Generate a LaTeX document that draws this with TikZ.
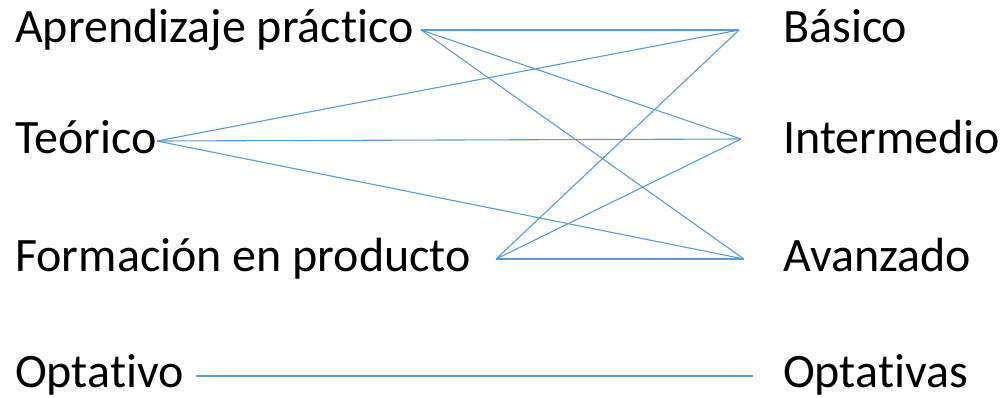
\documentclass[tikz,border=0pt]{standalone}
\usepackage{fontspec}
\setmainfont{Carlito}[Ligatures={NoCommon}]
\definecolor{linkblue}{HTML}{5B9BD5}
\begin{document}
\begin{tikzpicture}[x=1pt,y=-1pt,
  lbl/.style={anchor=base west,inner sep=0pt,font=\fontsize{48}{56}\selectfont},
  link/.style={draw=linkblue,line width=1.1pt}]
\useasboundingbox (0,0) rectangle (1003,397);
% labels
\node[lbl] (lA) at (15,42) {Aprendizaje práctico};
\node[lbl] (lT) at (15,153) {Teórico};
\node[lbl] (lF) at (15,271) {Formación en producto};
\node[lbl] (lO) at (15,387) {Optativo};
\node[lbl] (rB) at (783,42) {Básico};
\node[lbl] (rI) at (783,153) {Intermedio};
\node[lbl] (rV) at (783,271) {Avanzado};
\node[lbl] (rP) at (783,387) {Optativas};
% connection points
\coordinate (A) at (421,30);
\coordinate (T) at (157,141);
\coordinate (F) at (496,259);
\coordinate (O) at (196,376);
\coordinate (B) at (739,30);
\coordinate (I) at (741,139);
\coordinate (V) at (744,259);
\coordinate (P) at (753,376);
% connectors
\draw[link] (A) -- (B);
\draw[link] (A) -- (I);
\draw[link] (A) -- (V);
\draw[link] (T) -- (B);
\draw[link] (T) -- (I);
\draw[link] (T) -- (V);
\draw[link] (F) -- (B);
\draw[link] (F) -- (I);
\draw[link] (F) -- (V);
\draw[link] (O) -- (P);
\end{tikzpicture}
\end{document}
